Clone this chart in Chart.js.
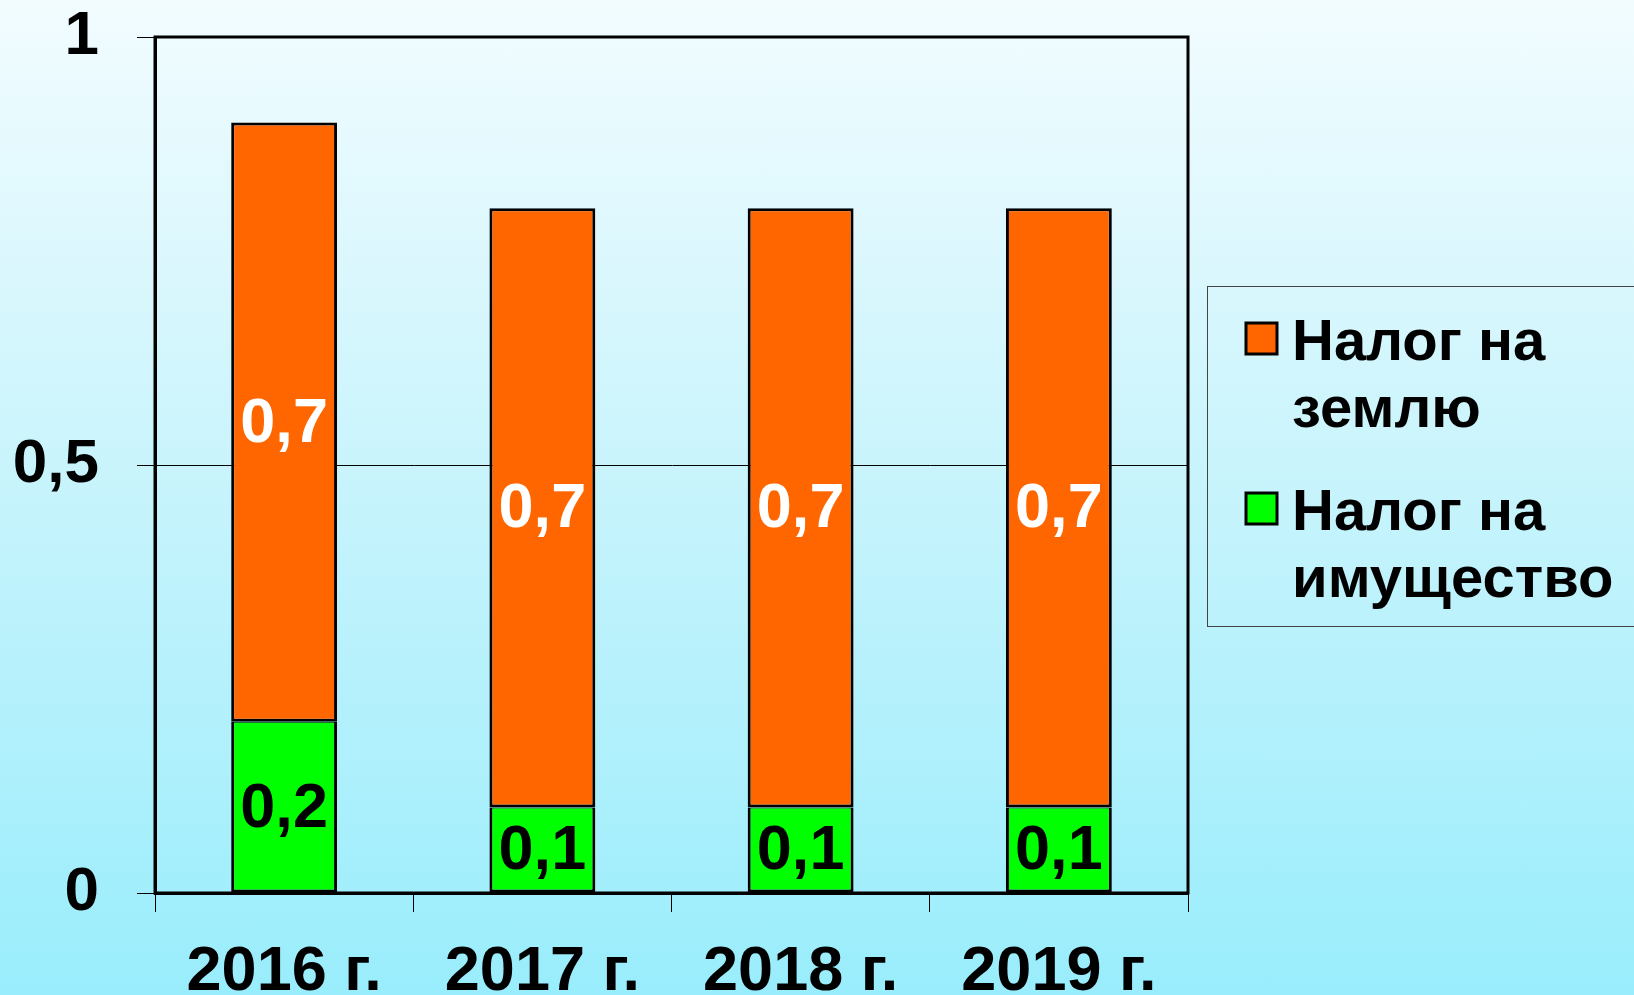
<!DOCTYPE html>
<html>
<head>
<meta charset="utf-8">
<script src="https://cdn.jsdelivr.net/npm/chart.js@4.4.1/dist/chart.umd.min.js"></script>
<style>
    html, body { margin: 0; padding: 0; }
    body {
        width: 1634px;
        height: 995px;
        overflow: hidden;
        background: linear-gradient(to bottom, #f2fcff 0%, #c9f4fc 47%, #99edfc 100%);
    }
    canvas { display: block; }
</style>
</head>
<body>
<canvas id="taxChart" width="1634" height="995"></canvas>
<script>
var years = ['2016 г.', '2017 г.', '2018 г.', '2019 г.'];
var propertyTax = [0.2, 0.1, 0.1, 0.1];
var landTax = [0.7, 0.7, 0.7, 0.7];
var yTicks = [0, 0.5, 1];
var landName = ['Налог на', 'землю'];
var propertyName = ['Налог на', 'имущество'];

var FONT = '"Liberation Sans", Arial, sans-serif';

function fmt(v) {
    return String(v).replace('.', ',');
}

// рамка области построения
var framePlugin = {
    id: 'frame',
    beforeDatasetsDraw: function(chart) {
        var a = chart.chartArea;
        var ctx = chart.ctx;
        ctx.save();
        ctx.strokeStyle = '#000';
        ctx.lineWidth = 3;
        ctx.strokeRect(a.left, a.top, a.right - a.left, a.bottom - a.top);
        ctx.restore();
    }
};

// подписи значений в центре сегментов
var valuePlugin = {
    id: 'values',
    afterDatasetsDraw: function(chart) {
        var ctx = chart.ctx;
        ctx.save();
        ctx.font = 'bold 63px ' + FONT;
        ctx.textAlign = 'center';
        ctx.textBaseline = 'middle';
        chart.data.datasets.forEach(function(ds, i) {
            var meta = chart.getDatasetMeta(i);
            meta.data.forEach(function(bar, j) {
                ctx.fillStyle = ds.valueColor;
                ctx.fillText(fmt(ds.data[j]), bar.x, (bar.y + bar.base) / 2 + 2);
            });
        });
        ctx.restore();
    }
};

// легенда справа
var legendPlugin = {
    id: 'sideLegend',
    afterDraw: function(chart) {
        var ctx = chart.ctx;
        var items = [
            { lines: landName, color: chart.data.datasets[1].backgroundColor, top: 323 },
            { lines: propertyName, color: chart.data.datasets[0].backgroundColor, top: 493 }
        ];
        ctx.save();
        ctx.strokeStyle = '#444';
        ctx.lineWidth = 1;
        ctx.strokeRect(1207.5, 286.5, 460, 340);
        ctx.font = 'bold 58px ' + FONT;
        ctx.textAlign = 'left';
        ctx.textBaseline = 'alphabetic';
        items.forEach(function(it) {
            ctx.fillStyle = it.color;
            ctx.fillRect(1246, it.top, 31, 31);
            ctx.strokeStyle = '#000';
            ctx.lineWidth = 3;
            ctx.strokeRect(1246, it.top, 31, 31);
            ctx.fillStyle = '#000';
            it.lines.forEach(function(line, k) {
                ctx.fillText(line, 1292, it.top + 37 + k * 67);
            });
        });
        ctx.restore();
    }
};

var chart = new Chart(document.getElementById('taxChart').getContext('2d'), {
    type: 'bar',
    data: {
        labels: years,
        datasets: [{
            label: propertyName.join(' '),
            data: propertyTax,
            backgroundColor: '#00ff00',
            borderColor: '#000',
            borderWidth: { top: 1, bottom: 3, left: 3, right: 3 },
            borderSkipped: false,
            valueColor: '#000'
        }, {
            label: landName.join(' '),
            data: landTax,
            backgroundColor: '#ff6600',
            borderColor: '#000',
            borderWidth: { top: 3, bottom: 3, left: 3, right: 3 },
            borderSkipped: false,
            valueColor: '#fff'
        }]
    },
    options: {
        responsive: false,
        animation: false,
        layout: {
            padding: { top: 37, right: 446, bottom: 0, left: 0 }
        },
        datasets: {
            bar: { barPercentage: 0.41, categoryPercentage: 1 }
        },
        plugins: {
            legend: { display: false },
            tooltip: { enabled: false }
        },
        scales: {
            x: {
                stacked: true,
                afterFit: function(scale) {
                    scale.height = 102;
                    scale.paddingLeft = 0;
                    scale.paddingRight = 0;
                },
                grid: {
                    drawOnChartArea: false,
                    drawTicks: true,
                    tickLength: 19,
                    color: '#000',
                    lineWidth: 1
                },
                border: { display: true, color: '#000', width: 3 },
                ticks: {
                    color: '#000',
                    padding: 23,
                    maxRotation: 0,
                    autoSkip: false,
                    font: { family: FONT, size: 63, weight: 'bold' }
                }
            },
            y: {
                stacked: true,
                min: 0,
                max: 1,
                afterFit: function(scale) {
                    scale.width = 155;
                    scale.paddingTop = 0;
                    scale.paddingBottom = 0;
                },
                afterBuildTicks: function(scale) {
                    scale.ticks = yTicks.map(function(v) { return { value: v }; });
                },
                grid: {
                    color: '#000',
                    lineWidth: 1,
                    tickLength: 18,
                    tickColor: '#000'
                },
                border: { display: true, color: '#000', width: 3 },
                ticks: {
                    color: '#000',
                    padding: 38,
                    font: { family: FONT, size: 62, weight: 'bold' },
                    callback: function(v) { return fmt(v); }
                }
            }
        }
    },
    plugins: [framePlugin, valuePlugin, legendPlugin]
});
</script>
</body>
</html>
